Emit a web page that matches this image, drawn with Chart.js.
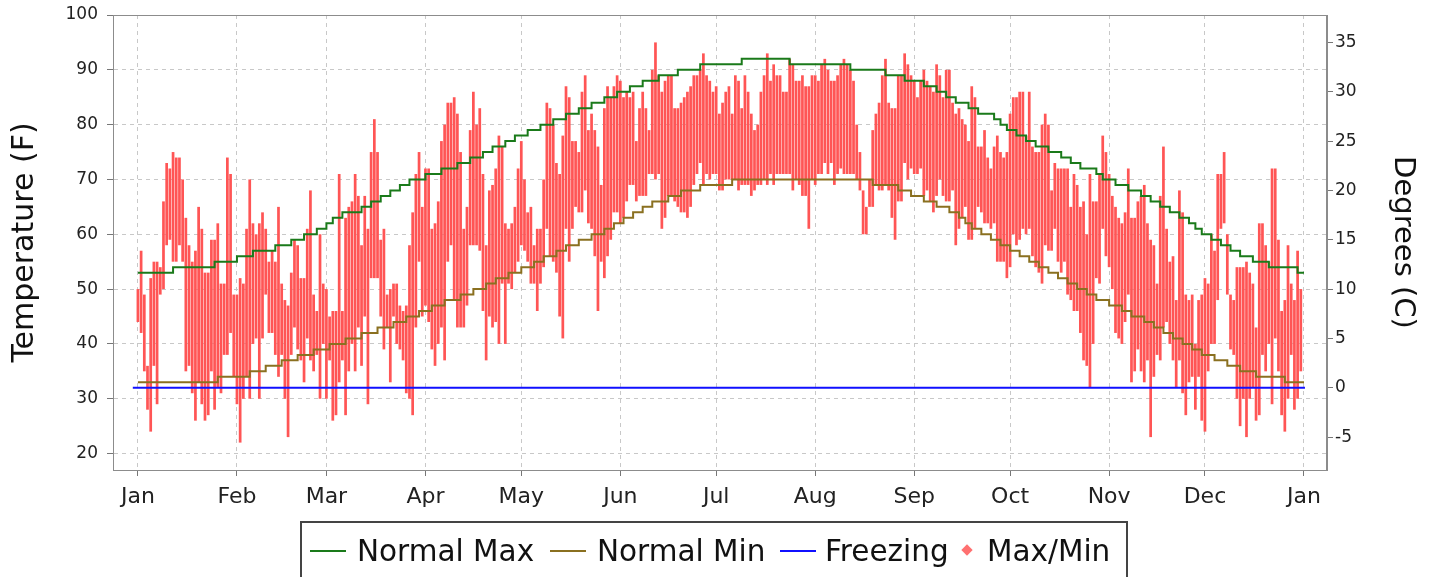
<!DOCTYPE html>
<html>
<head>
<meta charset="utf-8">
<script src="https://cdn.jsdelivr.net/npm/chart.js@4/dist/chart.umd.min.js"></script>
<style>
html,body{margin:0;padding:0;background:#fff;overflow:hidden}
#wrap{position:relative;width:1431px;height:577px;overflow:hidden}
canvas{display:block}
.lg{position:absolute;font-family:'DejaVu Sans',sans-serif;font-size:29.5px;line-height:34px;color:#111;white-space:nowrap}
.ln{position:absolute;height:2px;width:36px}
</style>
</head>
<body>
<div id="wrap">
<canvas id="c" width="1431" height="577"></canvas>
<div id="legendBox" style="position:absolute;left:300px;top:521px;width:828px;height:80px;border:2px solid #444;box-sizing:border-box"></div>
<div class="ln" style="left:310px;top:550px;background:#1a7a1a"></div>
<div class="lg" style="left:357px;top:534px">Normal Max</div>
<div class="ln" style="left:550px;top:550px;background:#8a7020"></div>
<div class="lg" style="left:597px;top:534px">Normal Min</div>
<div class="ln" style="left:780px;top:550px;background:#1010ff"></div>
<div class="lg" style="left:825px;top:534px">Freezing</div>
<div style="position:absolute;left:963px;top:546px;width:8px;height:8px;background:#ff7070;transform:rotate(45deg)"></div>
<div class="lg" style="left:987px;top:534px">Max/Min</div>
</div>
<script>
// ---- data ----
const monthStarts = [0,31,59,90,120,151,181,212,243,273,304,334,365];
const monthLabels = ['Jan','Feb','Mar','Apr','May','Jun','Jul','Aug','Sep','Oct','Nov','Dec','Jan'];
const fTicks = [20,30,40,50,60,70,80,90,100];
const cTicks = [-5,0,5,10,15,20,25,30,35];

// daily highs (F), day 0 = Jan 1
const highs = [
50,57,49,36,52,55,55,54,66,73,72,75,74,74,70,63,58,55,57,65,61,53,53,59,59,62,51,51,74,71,49,
49,52,51,61,70,62,60,62,64,61,55,57,55,65,51,48,47,53,59,58,52,52,61,68,49,46,60,51,50,45,46,46,71,
46,63,65,66,71,67,58,67,61,75,81,75,59,61,49,50,51,51,47,46,47,58,64,71,75,65,72,72,61,62,66,77,80,
84,84,85,82,75,61,65,79,86,80,83,71,58,68,69,72,78,76,62,61,62,65,72,77,70,64,65,58,61,61,70,84,83,80,
73,71,78,87,85,77,77,75,86,89,79,82,79,76,69,83,87,85,87,89,88,85,86,85,86,77,83,86,83,79,90,95,89,
86,88,89,89,83,83,84,85,86,87,89,89,90,93,89,88,86,87,82,84,86,87,82,89,88,83,89,86,82,79,80,86,89,
93,88,91,89,89,86,86,92,91,88,88,89,87,87,89,89,88,91,92,90,88,88,89,91,92,91,90,88,80,75,68,65,70,
79,82,84,89,92,84,83,83,89,89,93,91,89,88,85,88,90,88,87,86,91,89,85,90,90,84,82,83,81,80,77,87,85,76,
76,79,74,72,76,78,75,74,75,82,85,85,86,86,78,86,76,75,75,80,82,80,68,73,72,72,72,72,65,71,69,65,66,
60,71,66,66,71,78,75,71,67,65,63,62,64,72,63,63,66,67,69,62,59,58,51,67,76,61,55,56,48,68,64,49,48,
49,40,48,49,52,51,60,57,71,71,75,60,49,48,54,54,54,55,53,51,43,62,62,58,55,72,72,59,46,48,58,51,48,57,50
];
// daily lows (F)
const lows = [
44,42,35,28,24,36,29,49,50,58,59,55,55,58,55,35,36,31,26,33,29,26,27,35,28,32,31,38,38,42,34,
29,22,30,34,30,40,41,30,41,49,42,42,38,34,38,30,23,38,43,39,37,33,41,37,35,38,30,40,30,37,26,27,33,
37,27,35,40,35,43,36,45,29,52,52,52,45,39,43,33,45,40,39,37,31,30,27,43,55,45,47,44,39,36,40,43,37,
55,58,48,43,43,43,47,58,58,58,57,46,37,45,43,44,40,51,40,51,50,53,55,58,57,55,51,51,46,51,54,61,56,55,
53,45,41,61,55,61,65,64,64,68,62,61,56,46,55,52,56,59,64,64,62,63,66,69,69,66,67,67,67,71,71,70,71,
61,63,67,67,66,65,64,64,63,65,69,71,73,69,71,70,71,71,68,68,70,70,70,70,68,69,69,69,67,68,69,69,70,
69,71,69,71,71,71,71,71,68,70,69,67,67,61,70,69,71,71,73,71,73,69,71,72,71,71,71,71,70,68,60,60,65,
65,69,68,68,69,68,63,59,66,66,73,70,72,71,71,72,67,68,66,64,67,70,67,66,66,68,58,61,63,65,59,59,61,65,
64,62,62,61,62,55,55,55,52,54,60,58,59,61,60,61,56,54,53,51,58,57,57,61,55,53,55,49,48,46,46,42,37,
36,32,40,52,51,61,56,54,50,42,41,40,44,49,33,35,39,35,33,37,23,34,38,37,43,44,40,37,32,37,31,27,33,
34,28,34,26,24,35,40,40,48,61,62,49,39,38,30,25,30,23,30,32,26,27,38,35,40,29,41,35,27,24,30,38,28,30,35
];

// normal max: day on which each step value starts
const normMaxDays = [0,11,24,31,36,43,48,52,56,59,61,64,70,73,76,79,82,85,90,95,100,104,108,111,115,118,122,126,130,134,138,142,146,150,154,158,163,169,176,189,204,223,234,240,246,250,253,256,260,263,268,270,272,275,278,281,285,289,292,295,300,302,306,310,314,317,320,323,326,329,331,333,336,339,342,345,349,354,363,365];
const normMaxVals = [53,54,55,56,57,58,59,60,61,62,63,64,65,66,67,68,69,70,71,72,73,74,75,76,77,78,79,80,81,82,83,84,85,86,87,88,89,90,91,92,91,90,89,88,87,86,85,84,83,82,81,80,79,78,77,76,75,74,73,72,71,70,69,68,67,66,65,64,63,62,61,60,59,58,57,56,55,54,53,53];
// normal min
const normMinDays = [0,25,35,40,45,50,55,60,65,70,75,80,84,88,92,96,101,105,109,112,116,120,124,127,131,134,138,142,146,149,152,155,158,161,166,170,176,186,230,238,242,246,250,254,257,259,261,264,267,270,273,276,279,282,285,288,291,294,297,300,304,308,311,315,318,321,324,327,330,333,337,341,345,350,359,365];
const normMinVals = [33,34,35,36,37,38,39,40,41,42,43,44,45,46,47,48,49,50,51,52,53,54,55,56,57,58,59,60,61,62,63,64,65,66,67,68,69,70,69,68,67,66,65,64,63,62,61,60,59,58,57,56,55,54,53,52,51,50,49,48,47,46,45,44,43,42,41,40,39,38,37,36,35,34,33,33];
const freezeDays = [-1.6, 365.3];
const freezeVals = [32, 32];

// ---- chart ----
const FONT = "'DejaVu Sans', sans-serif";
const F_MIN = 17, F_MAX = 100;
const toC = f => (f - 32) * 5 / 9;

const barData = highs.map((h, i) => ({x: i, y: [lows[i], h]}));
const pts = (xs, ys) => xs.map((x, i) => ({x: x, y: ys[i]}));

const frame = {
  id: 'frame',
  afterDraw(chart) {
    const a = chart.chartArea, ctx = chart.ctx;
    ctx.save();
    ctx.strokeStyle = '#8c8c8c';
    ctx.lineWidth = 1;
    ctx.strokeRect(Math.round(a.left) + 0.5, Math.round(a.top) + 0.5, Math.round(a.right - a.left) - 1, Math.round(a.bottom - a.top));
    ctx.restore();
  }
};

const fitY = w => s => { s.width = w; s.paddingTop = 0; s.paddingBottom = 0; };

new Chart(document.getElementById('c'), {
  type: 'bar',
  data: {
    datasets: [
      {label: 'Normal Max', type: 'line', data: pts(normMaxDays, normMaxVals), stepped: true, borderColor: '#1a7a1a', borderWidth: 2, pointRadius: 0, yAxisID: 'y', order: 1},
      {label: 'Normal Min', type: 'line', data: pts(normMinDays, normMinVals), stepped: true, borderColor: '#8a7020', borderWidth: 2, pointRadius: 0, yAxisID: 'y', order: 1},
      {label: 'Freezing', type: 'line', data: pts(freezeDays, freezeVals), borderColor: '#1010ff', borderWidth: 2, pointRadius: 0, yAxisID: 'y', order: 0},
      {label: 'Max/Min', type: 'bar', data: barData, backgroundColor: '#ff5555', borderWidth: 0, barPercentage: 0.85, categoryPercentage: 1, yAxisID: 'y', order: 5}
    ]
  },
  options: {
    responsive: false,
    animation: false,
    devicePixelRatio: 1,
    layout: {padding: {top: 15, left: 0, right: 0, bottom: 0}},
    plugins: {legend: {display: false}, tooltip: {enabled: false}, title: {display: false}},
    scales: {
      x: {
        type: 'linear', min: -7.8, max: 372.2, offset: false,
        afterBuildTicks: s => { s.ticks = monthStarts.map(v => ({value: v})); },
        afterFit: s => { s.height = 107; s.paddingLeft = 0; s.paddingRight = 0; },
        ticks: {callback: (v, i) => monthLabels[i], autoSkip: false, maxRotation: 0, font: {family: FONT, size: 22}, color: '#222', padding: 8},
        grid: {offset: false, color: '#c8c8c8', lineWidth: 1, tickLength: 6, tickColor: '#777', tickBorderDash: []},
        border: {display: true, color: '#8c8c8c', dash: [4, 4]}
      },
      y: {
        type: 'linear', position: 'left', min: F_MIN, max: F_MAX,
        afterBuildTicks: s => { s.ticks = fTicks.map(v => ({value: v})); },
        afterFit: fitY(113),
        ticks: {font: {family: FONT, size: 17}, color: '#222', padding: 9},
        grid: {color: '#c8c8c8', lineWidth: 1, tickLength: 6, tickColor: '#777', tickBorderDash: []},
        border: {display: true, color: '#8c8c8c', dash: [4, 4]},
        title: {display: true, text: 'Temperature (F)', font: {family: FONT, size: 30}, color: '#111', padding: {top: 7, bottom: 0}}
      },
      yC: {
        type: 'linear', position: 'right', min: toC(F_MIN), max: toC(F_MAX),
        afterBuildTicks: s => { s.ticks = cTicks.map(v => ({value: v})); },
        afterFit: fitY(104),
        ticks: {font: {family: FONT, size: 17}, color: '#222', padding: 2},
        grid: {drawOnChartArea: false, tickLength: 6, tickColor: '#777'},
        border: {display: true, color: '#8c8c8c'},
        title: {display: true, text: 'Degrees (C)', font: {family: FONT, size: 29}, color: '#111', padding: {top: 11, bottom: 0}}
      }
    }
  },
  plugins: [frame]
});
</script>
</body>
</html>
